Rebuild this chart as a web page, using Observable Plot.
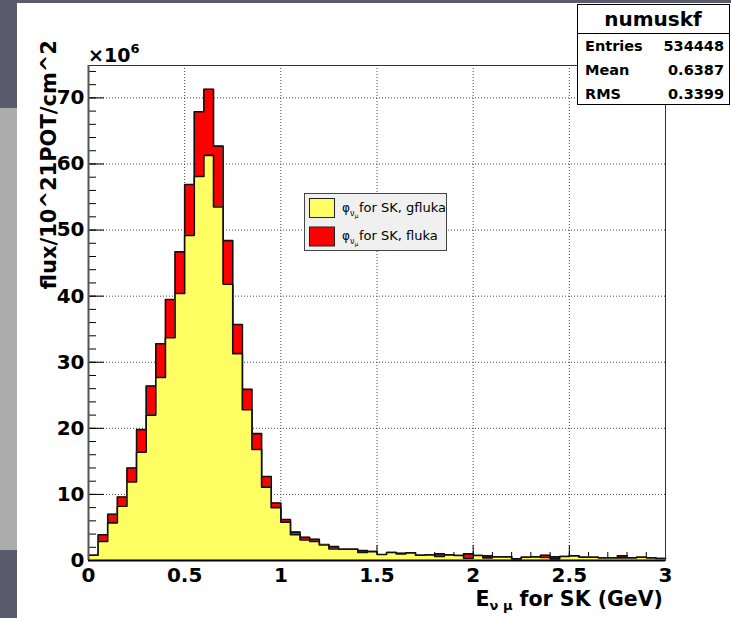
<!DOCTYPE html>
<html>
<head>
<meta charset="utf-8">
<script src="https://cdn.jsdelivr.net/npm/d3@7"></script>
<script src="https://cdn.jsdelivr.net/npm/@observablehq/plot@0.6"></script>
<style>
  html, body { margin: 0; padding: 0; background: #5a5b6d; }
  #wrap { position: relative; width: 731px; height: 618px; overflow: hidden; background: #5a5b6d; }
  #band { position: absolute; left: 0; top: 108px; width: 17px; height: 442px; background: #acacac; }
  #canvas { position: absolute; left: 17px; top: 3px; right: 0; bottom: 0; background: #ffffff; }
  #chart { position: absolute; left: 0; top: 0; }
  #chart svg { display: block; }
</style>
</head>
<body>
<div id="wrap">
  <div id="band"></div>
  <div id="canvas"></div>
  <div id="chart"></div>
</div>
<script>
// ---------- data ----------
const binWidth = 0.05;
const binLowEdges = d3.range(60).map(i => +(i * binWidth).toFixed(2));
// phi_nu_mu for SK, fluka (red)
const flukaValues = [
  0.8, 3.9, 7.0, 9.6, 14.0, 19.8, 26.4, 32.8, 39.5, 46.7,
  56.9, 67.9, 71.3, 62.7, 48.4, 35.7, 25.9, 19.2, 12.7, 8.7,
  6.2, 4.3, 3.5, 3.2, 2.4, 2.1, 1.7, 1.7, 1.5, 1.35,
  0.85, 1.2, 1.1, 1.15, 0.8, 0.85, 1.0, 0.85, 0.75, 1.0,
  0.75, 0.7, 0.55, 0.55, 0.25, 0.5, 0.55, 0.8, 0.55, 0.6,
  0.7, 0.5, 0.5, 0.4, 0.4, 0.7, 0.4, 0.5, 0.4, 0.3
];
// phi_nu_mu for SK, gfluka (yellow)
const gflukaValues = [
  0.8, 2.9, 5.7, 8.2, 11.9, 16.4, 22.0, 27.7, 33.7, 40.4,
  49.2, 58.1, 61.3, 53.5, 41.8, 31.3, 22.8, 16.8, 11.1, 8.0,
  5.8, 3.9, 3.1, 2.9, 2.35, 1.75, 1.7, 1.7, 1.2, 1.35,
  0.9, 1.2, 1.0, 1.15, 0.8, 0.85, 0.6, 0.85, 0.75, 0.35,
  0.75, 0.4, 0.55, 0.55, 0.25, 0.5, 0.55, 0.45, 0.25, 0.6,
  0.7, 0.5, 0.5, 0.4, 0.4, 0.4, 0.4, 0.5, 0.4, 0.3
];
const xMajorTicks = [0, 0.5, 1, 1.5, 2, 2.5, 3];
const xTickLabels = ["0", "0.5", "1", "1.5", "2", "2.5", "3"];
const xMinorTicks = d3.range(31).map(i => +(i * 0.1).toFixed(1));
const yMajorTicks = [0, 10, 20, 30, 40, 50, 60, 70];
const yTickLabels = ["0", "10", "20", "30", "40", "50", "60", "70"];
const yMinorTicks = d3.range(38).map(i => i * 2);
const xGrid = [0.5, 1, 1.5, 2, 2.5];
const yGrid = [10, 20, 30, 40, 50, 60, 70];
const statsTitle = "numuskf";
const statsLabels = ["Entries", "Mean", "RMS"];
const statsValues = ["534448", "0.6387", "0.3399"];
const legendLabels = ["for SK, gfluka", "for SK, fluka"];
const seriesColors = ["#ffff64", "#ff0000"];

// ---------- layout ----------
const W = 731, H = 618;
const mL = 88, mR = 66, mT = 65, mB = 58;
const frameW = W - mL - mR, frameH = H - mT - mB;
const xDomain = [0, 3], yDomain = [0, 74.9];

function steps(vals) {
  const s = vals.map((v, i) => ({x: binLowEdges[i], y: v}));
  s.push({x: xDomain[1], y: vals[vals.length - 1]});
  return s;
}
const redSteps = steps(flukaValues);
const yellowSteps = steps(gflukaValues);

const font = "DejaVu Sans";

const chart = Plot.plot({
  width: W, height: H,
  marginLeft: mL, marginRight: mR, marginTop: mT, marginBottom: mB,
  x: {domain: xDomain},
  y: {domain: yDomain},
  style: {background: "transparent", fontFamily: font, overflow: "visible"},
  marks: [
    Plot.gridX(xGrid, {stroke: "#444", strokeOpacity: 1, strokeDasharray: "1,2"}),
    Plot.gridY(yGrid, {stroke: "#444", strokeOpacity: 1, strokeDasharray: "1,2"}),
    // ticks drawn inside the frame (hidden by histograms)
    Plot.ruleX(xMinorTicks, {x: d => d, insetTop: frameH - 8, stroke: "#000", strokeWidth: 1}),
    Plot.ruleX(xMajorTicks, {x: d => d, insetTop: frameH - 15, stroke: "#000", strokeWidth: 1}),
    Plot.ruleY(yMinorTicks, {y: d => d, insetRight: frameW - 8, stroke: "#000", strokeWidth: 1}),
    Plot.ruleY(yMajorTicks, {y: d => d, insetRight: frameW - 16, stroke: "#000", strokeWidth: 1}),
    // fluka (red)
    Plot.areaY(redSteps, {x: "x", y: "y", curve: "step-after", fill: seriesColors[1]}),
    Plot.lineY(redSteps, {x: "x", y: "y", curve: "step-after", stroke: "#111", strokeWidth: 1.6}),
    // gfluka (yellow)
    Plot.areaY(yellowSteps, {x: "x", y: "y", curve: "step-after", fill: seriesColors[0]}),
    Plot.lineY(yellowSteps, {x: "x", y: "y", curve: "step-after", stroke: "#111", strokeWidth: 1.6}),
    Plot.frame({stroke: "#333", strokeWidth: 1}),
    Plot.ruleX([0], {stroke: "#555", strokeWidth: 2}),
    Plot.ruleY([0], {stroke: "#000", strokeWidth: 2}),
    Plot.axisX({ticks: xMajorTicks, tickSize: 0, tickPadding: 7, tickFormat: (d, i) => xTickLabels[i],
      fontSize: 20, fontWeight: "bold", fill: "#000", label: null}),
    Plot.axisY({ticks: yMajorTicks, tickSize: 0, tickPadding: 4, tickFormat: (d, i) => yTickLabels[i],
      fontSize: 20, fontWeight: "bold", fill: "#000", label: null})
  ]
});
document.getElementById("chart").appendChild(chart);

// ---------- extra texts, legend and stats box ----------
const svg = d3.select(chart);
function txt(parent, x, y, size, weight, anchor) {
  return parent.append("text").attr("x", x).attr("y", y)
    .attr("font-family", font).attr("font-weight", weight).attr("font-size", size)
    .attr("text-anchor", anchor).attr("fill", "#000");
}

// x10^6 multiplier
const mult = txt(svg, 88, 62, 19, "bold", "start");
mult.append("tspan").text("×10");
mult.append("tspan").attr("font-size", 13).attr("dy", -9).text("6");

// y axis title
svg.append("text")
  .attr("transform", "translate(56,40) rotate(-90)")
  .attr("text-anchor", "end")
  .attr("font-family", font).attr("font-weight", "bold").attr("font-size", 21).attr("fill", "#000")
  .text("flux/10^21POT/cm^2");

// x axis title
const xt = txt(svg, 663, 606, 20.5, "bold", "end");
xt.append("tspan").text("E");
xt.append("tspan").attr("font-size", 13).attr("dy", 4).text("ν μ");
xt.append("tspan").attr("dy", -4).text(" for SK (GeV)");

// legend
const lg = svg.append("g");
lg.append("rect").attr("x", 304.5).attr("y", 193.5).attr("width", 142).attr("height", 57)
  .attr("fill", "#f0f0f0").attr("stroke", "#444").attr("stroke-width", 1);
[0, 1].forEach(i => {
  const y0 = 198.5 + i * 28.5;
  lg.append("rect").attr("x", 309.5).attr("y", y0).attr("width", 25).attr("height", 19)
    .attr("fill", seriesColors[i]).attr("stroke", "#222").attr("stroke-width", 1);
  const t = txt(lg, 342, y0 + 13, 12, "normal", "start");
  t.append("tspan").text("φ");
  t.append("tspan").attr("font-size", 8).attr("dy", 4).text("ν");
  t.append("tspan").attr("font-size", 6).attr("dy", 2).text("μ");
  txt(lg, 359, y0 + 13, 13, "normal", "start").text(legendLabels[i]);
});

// stats box
const sb = svg.append("g");
sb.append("rect").attr("x", 577.5).attr("y", 4.5).attr("width", 152).attr("height", 100)
  .attr("fill", "#fff").attr("stroke", "#000").attr("stroke-width", 1);
sb.append("line").attr("x1", 577.5).attr("x2", 729.5).attr("y1", 33.5).attr("y2", 33.5)
  .attr("stroke", "#000").attr("stroke-width", 1);
txt(sb, 653, 26, 20, "bold", "middle").text(statsTitle);
statsLabels.forEach((lab, i) => {
  const y = 51 + i * 24;
  txt(sb, 585, y, 14.5, "bold", "start").text(lab);
  txt(sb, 724, y, 14.5, "bold", "end").text(statsValues[i]);
});
</script>
</body>
</html>
